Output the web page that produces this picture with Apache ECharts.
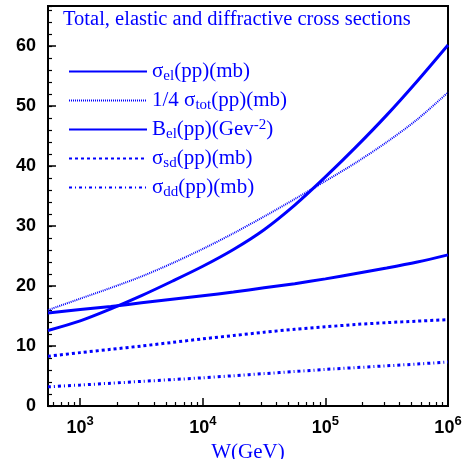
<!DOCTYPE html>
<html lang="en">
    <head>
        <meta charset="UTF-8" />
        <script src="https://cdn.jsdelivr.net/npm/echarts@6.0.0/dist/echarts.min.js"></script>
        <title>Total, elastic and diffractive cross sections</title>
        <style>
            html, body { margin: 0; padding: 0; background: #fff; }
            #chart { width: 475px; height: 459px; }
        </style>
    </head>
    <body>
        <div id="chart"></div>
        <script type="text/javascript">
            // W in GeV (log axis)
            var W = [546, 1000, 1778, 3162, 5623, 10000, 17783, 31623, 56234, 100000, 177828, 316228, 562341, 1000000];

            var sigEl   = [12.6, 14.2, 16.2, 18.4, 20.8, 23.3, 26.1, 29.4, 33.5, 38.2, 43.2, 48.5, 54.2, 60.2];
            var sigTot4 = [16.0, 17.9, 19.7, 21.6, 23.8, 26.2, 28.8, 31.6, 34.5, 37.5, 40.6, 44.0, 47.8, 52.3];
            var bEl     = [15.5, 16.1, 16.6, 17.2, 17.8, 18.4, 19.0, 19.7, 20.4, 21.2, 22.1, 23.0, 24.0, 25.2];
            var sigSd   = [8.3, 8.9, 9.45, 10.0, 10.6, 11.2, 11.75, 12.3, 12.8, 13.2, 13.6, 13.9, 14.15, 14.4];
            var sigDd   = [3.2, 3.5, 3.8, 4.1, 4.4, 4.7, 5.05, 5.4, 5.75, 6.1, 6.4, 6.7, 7.0, 7.35];

            // minor ticks on the log axis: 2..9 x 10^n
            var xMinorTicks = [600, 700, 800, 900,
                2000, 3000, 4000, 5000, 6000, 7000, 8000, 9000,
                20000, 30000, 40000, 50000, 60000, 70000, 80000, 90000,
                200000, 300000, 400000, 500000, 600000, 700000, 800000, 900000];

            var BLUE = "#0000ff";
            var SERIF = "Liberation Serif";
            var SANS = "Liberation Sans";

            function pairs(ys) {
                return W.map(function (w, i) { return [w, ys[i]]; });
            }

            var legendText = {
                sel: "{t|σ}{sub|el}{t|(pp)(mb)}",
                stot: "{t|1/4 σ}{sub|tot}{t|(pp)(mb)}",
                bel: "{t|B}{sub|el}{t|(pp)(Gev}{sup|-2}{t|)}",
                ssd: "{t|σ}{sub|sd}{t|(pp)(mb)}",
                sdd: "{t|σ}{sub|dd}{t|(pp)(mb)}",
            };

            function line(name, ys, width, type) {
                return {
                    name: name,
                    type: "line",
                    data: pairs(ys),
                    smooth: 0.3,
                    symbol: "none",
                    lineStyle: { color: BLUE, width: width, type: type },
                    itemStyle: { color: BLUE },
                };
            }

            var chart = echarts.init(document.getElementById("chart"));

            var option = {
                animation: false,
                title: {
                    text: "Total, elastic and diffractive cross sections",
                    left: 58,
                    top: 4,
                    textStyle: { color: BLUE, fontFamily: SERIF, fontSize: 20.5, fontWeight: "normal" },
                },
                legend: {
                    orient: "vertical",
                    left: 68,
                    top: 59,
                    padding: 0,
                    itemWidth: 78,
                    itemHeight: 20,
                    itemGap: 4,
                    data: ["sel", "stot", "bel", "ssd", "sdd"],
                    itemStyle: { opacity: 0, borderWidth: 0 },
                    formatter: function (n) { return legendText[n]; },
                    textStyle: {
                        rich: {
                            t: { fontFamily: SERIF, fontSize: 21, color: BLUE, lineHeight: 22 },
                            sub: { fontFamily: SERIF, fontSize: 15, color: BLUE, lineHeight: 22, padding: [10, 0, 0, 0] },
                            sup: { fontFamily: SERIF, fontSize: 15, color: BLUE, lineHeight: 22, padding: [0, 0, 9, 0] },
                        },
                    },
                },
                grid: {
                    left: 48,
                    right: 27,
                    top: 6,
                    bottom: 53,
                    outerBoundsMode: "none",
                    show: true,
                    borderColor: "#000",
                    borderWidth: 2,
                },
                xAxis: [
                    {
                        type: "log",
                        logBase: 10,
                        min: 546,
                        max: 1000000,
                        position: "bottom",
                        name: "W(GeV)",
                        nameLocation: "middle",
                        nameGap: 29,
                        nameTextStyle: { color: BLUE, fontFamily: SERIF, fontSize: 21 },
                        axisLine: { show: true, lineStyle: { color: "#000", width: 2 } },
                        axisTick: { show: true, inside: true, length: 8, lineStyle: { color: "#000", width: 1.5 } },
                        splitLine: { show: false },
                        minorTick: { show: false },
                        axisLabel: {
                            margin: 7,
                            formatter: function (v) {
                                var e = Math.round(Math.log10(v));
                                if (Math.abs(Math.pow(10, e) - v) > 1e-6 * v) return "";
                                return "{b|10}{s|" + e + "}";
                            },
                            rich: {
                                b: { fontFamily: SANS, fontWeight: "bold", fontSize: 18, color: "#000", padding: [6, 0, 0, 0] },
                                s: { fontFamily: SANS, fontWeight: "bold", fontSize: 13, color: "#000", padding: [0, 0, 8, 0] },
                            },
                        },
                    },
                    {
                        type: "log",
                        logBase: 10,
                        min: 546,
                        max: 1000000,
                        position: "bottom",
                        axisLine: { show: false },
                        axisLabel: { show: false },
                        splitLine: { show: false },
                        axisTick: {
                            show: true,
                            inside: true,
                            length: 4,
                            customValues: xMinorTicks,
                            lineStyle: { color: "#000", width: 1.2 },
                        },
                    },
                ],
                yAxis: [
                    {
                        type: "value",
                        min: 0,
                        max: 66.7,
                        interval: 10,
                        axisLine: { show: true, lineStyle: { color: "#000", width: 2 } },
                        axisTick: { show: true, inside: true, length: 8, lineStyle: { color: "#000", width: 1.5 } },
                        splitLine: { show: false },
                        axisLabel: {
                            margin: 12,
                            fontFamily: SANS,
                            fontWeight: "bold",
                            fontSize: 18,
                            color: "#000",
                            formatter: function (v) { return v % 10 === 0 ? String(v) : ""; },
                        },
                    },
                    {
                        type: "value",
                        min: 0,
                        max: 66.7,
                        interval: 2,
                        position: "left",
                        axisLine: { show: false },
                        axisLabel: { show: false },
                        splitLine: { show: false },
                        axisTick: { show: true, inside: true, length: 4, lineStyle: { color: "#000", width: 1.2 } },
                    },
                ],
                series: [
                    line("sel", sigEl, 3, "solid"),
                    line("stot", sigTot4, 2, [1, 1]),
                    line("bel", bEl, 3, "solid"),
                    line("ssd", sigSd, 3, [3, 3]),
                    line("sdd", sigDd, 3, [3, 3, 1, 3]),
                ],
            };

            chart.setOption(option);
        </script>
    </body>
</html>
